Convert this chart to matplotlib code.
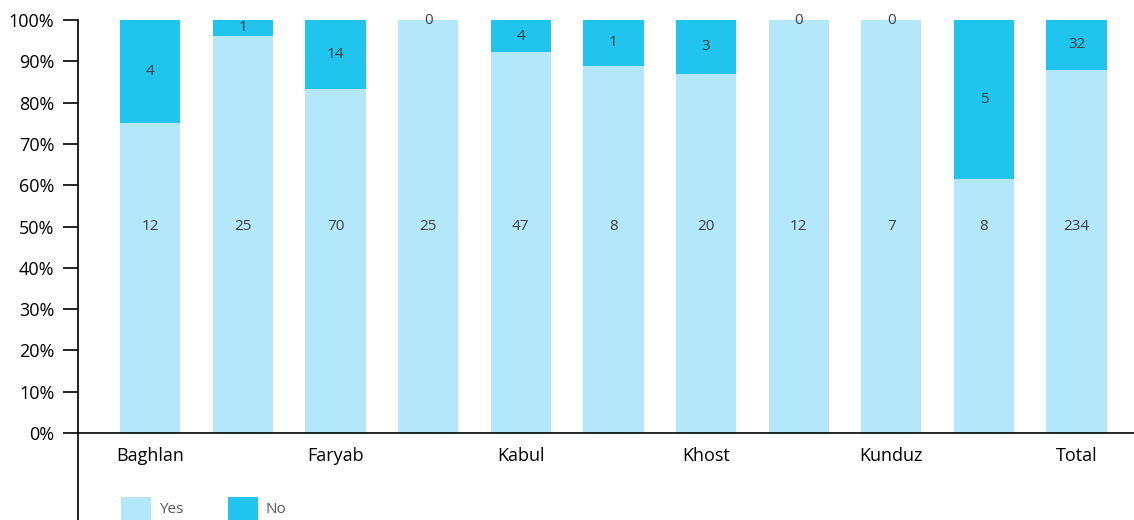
import matplotlib.pyplot as plt
from matplotlib.lines import Line2D
from matplotlib.ticker import PercentFormatter

plt.rcParams['font.family'] = ['Open Sans', 'DejaVu Sans']

# data
categories = ['Baghlan', '', 'Faryab', '', 'Kabul', '', 'Khost', '', 'Kunduz', '', 'Total']
yes_counts = [12, 25, 70, 25, 47, 8, 20, 12, 7, 8, 234]
no_counts = [4, 1, 14, 0, 4, 1, 3, 0, 0, 5, 32]

YES_COLOR = '#b3e7f9'
NO_COLOR = '#21c4ed'
LABEL_COLOR = '#404040'

totals = [y + n for y, n in zip(yes_counts, no_counts)]
yes_pct = [y / t * 100 for y, t in zip(yes_counts, totals)]
no_pct = [n / t * 100 for n, t in zip(no_counts, totals)]
x = list(range(len(categories)))

fig = plt.figure(figsize=(11.34, 5.2), dpi=100)
ax = fig.add_axes([78 / 1134, 87 / 520, 1 - 78 / 1134, 413 / 520])

width = 0.65
ax.bar(x, yes_pct, width, color=YES_COLOR, label='Yes')
ax.bar(x, no_pct, width, bottom=yes_pct, color=NO_COLOR, label='No')

for i in x:
    ax.text(i, 50, str(yes_counts[i]), ha='center', va='center',
            fontsize=11, color=LABEL_COLOR)
    ax.text(i, yes_pct[i] + no_pct[i] / 2, str(no_counts[i]), ha='center',
            va='center', fontsize=11, color=LABEL_COLOR)

ax.set_xlim(-0.78, 10.62)
ax.set_ylim(0, 100)
ax.set_yticks(range(0, 101, 10))
ax.yaxis.set_major_formatter(PercentFormatter(decimals=0))
ax.set_xticks(x)
ax.set_xticklabels(categories)
ax.tick_params(axis='y', length=11, width=1.2, labelsize=13, pad=6, colors='black')
ax.tick_params(axis='x', length=0, labelsize=13, pad=10)
for s in ['top', 'right']:
    ax.spines[s].set_visible(False)
ax.spines['left'].set_linewidth(1.2)
ax.spines['bottom'].set_linewidth(1.2)

# left axis line continues down to the bottom edge
fig.add_artist(Line2D([78 / 1134, 78 / 1134], [0, 87 / 520],
                      transform=fig.transFigure, color='black', linewidth=1.2))

leg = fig.legend(loc='upper left', bbox_to_anchor=(107 / 1134, 1 - 483 / 520),
                 ncol=2, frameon=False, fontsize=11, handlelength=2.0,
                 handleheight=2.0, handletextpad=0.5, columnspacing=2.9)
for t in leg.get_texts():
    t.set_color('#595959')

fig.savefig('out.png', dpi=100)
